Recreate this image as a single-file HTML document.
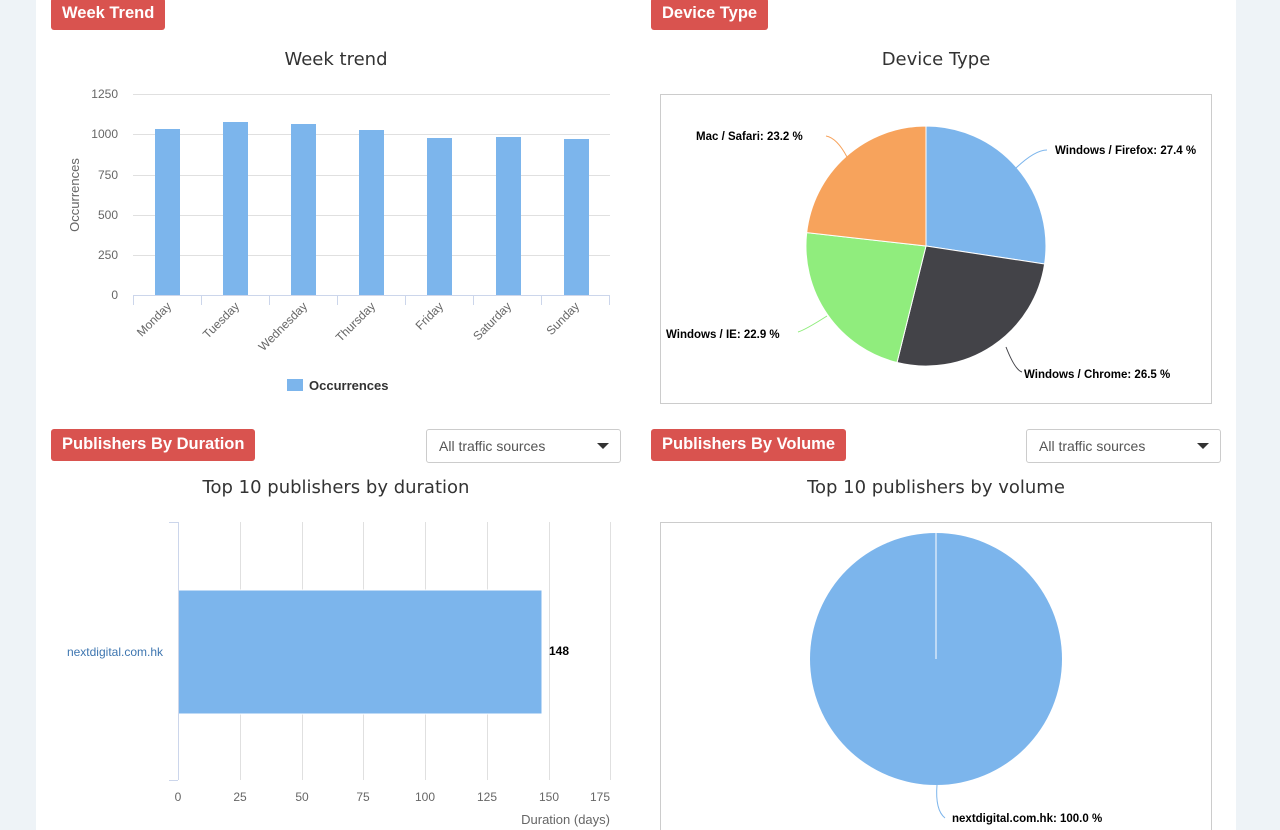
<!DOCTYPE html>
<html><head><meta charset="utf-8"><style>
body{margin:0;width:1280px;height:830px;background:#eef3f7;font-family:"Liberation Sans",sans-serif;overflow:hidden;position:relative}
.panel{position:absolute;left:36px;top:0;width:1200px;height:830px;background:#fff}
.badge{position:absolute;background:#d9534f;color:#fff;font-weight:bold;font-size:16.5px;border-radius:3px;padding:0 11px;height:32px;line-height:30px}
.dd{position:absolute;border:1px solid #ccc;border-radius:3px;height:34px;width:195px;font-size:14px;color:#555;line-height:33px;box-sizing:border-box;padding-left:12px}
.dd:after{content:"";position:absolute;right:11px;top:13px;border:6px solid transparent;border-top:6px solid #333;border-bottom:0}
svg{position:absolute;left:0;top:0}
.lab{font-family:"Liberation Sans",sans-serif}
</style></head><body>
<div class="panel"></div>
<div class="badge" style="left:51px;top:-2px">Week Trend</div>
<div class="badge" style="left:651px;top:-2px">Device Type</div>
<div class="badge" style="left:51px;top:429px">Publishers By Duration</div>
<div class="badge" style="left:651px;top:429px">Publishers By Volume</div>
<div class="dd" style="left:426px;top:429px">All traffic sources</div>
<div class="dd" style="left:1026px;top:429px">All traffic sources</div>
<svg width="1280" height="830" font-family="DejaVu Sans, Liberation Sans, sans-serif">
<text x="336" y="65" text-anchor="middle" font-size="18" fill="#333">Week trend</text>
<g stroke="#e0e0e0"><line x1="133" x2="610" y1="94.5" y2="94.5"/><line x1="133" x2="610" y1="134.5" y2="134.5"/><line x1="133" x2="610" y1="175.5" y2="175.5"/><line x1="133" x2="610" y1="215.5" y2="215.5"/><line x1="133" x2="610" y1="255.5" y2="255.5"/></g>
<g class="lab" font-size="12" fill="#666" text-anchor="end"><text x="118" y="98">1250</text><text x="118" y="138">1000</text><text x="118" y="179">750</text><text x="118" y="219">500</text><text x="118" y="259">250</text><text x="118" y="299">0</text></g>
<text class="lab" transform="translate(79,195) rotate(-90)" text-anchor="middle" font-size="13" fill="#666">Occurrences</text>
<g fill="#7cb5ec"><rect x="155" y="129" width="25" height="166"/><rect x="223" y="122" width="25" height="173"/><rect x="291" y="124" width="25" height="171"/><rect x="359" y="130" width="25" height="165"/><rect x="427" y="138" width="25" height="157"/><rect x="496" y="137" width="25" height="158"/><rect x="564" y="139" width="25" height="156"/></g>
<g stroke="#ccd6eb"><line x1="133" x2="610" y1="295.5" y2="295.5"/><line x1="133.5" x2="133.5" y1="295" y2="305"/><line x1="201.5" x2="201.5" y1="295" y2="305"/><line x1="269.5" x2="269.5" y1="295" y2="305"/><line x1="337.5" x2="337.5" y1="295" y2="305"/><line x1="405.5" x2="405.5" y1="295" y2="305"/><line x1="473.5" x2="473.5" y1="295" y2="305"/><line x1="541.5" x2="541.5" y1="295" y2="305"/><line x1="609.5" x2="609.5" y1="295" y2="305"/></g>
<g class="lab" font-size="12" fill="#666" text-anchor="end"><text transform="translate(172,307) rotate(-45)">Monday</text><text transform="translate(240,307) rotate(-45)">Tuesday</text><text transform="translate(308,307) rotate(-45)">Wednesday</text><text transform="translate(376,307) rotate(-45)">Thursday</text><text transform="translate(444,307) rotate(-45)">Friday</text><text transform="translate(512,307) rotate(-45)">Saturday</text><text transform="translate(580,307) rotate(-45)">Sunday</text></g>
<rect x="287" y="379" width="16" height="12" fill="#7cb5ec"/><text class="lab" x="309" y="390" font-size="13" fill="#333" font-weight="bold">Occurrences</text>

<text x="936" y="65" text-anchor="middle" font-size="18" fill="#333">Device Type</text>
<rect x="660.5" y="94.5" width="551" height="309" fill="none" stroke="#ccc"/>
<g stroke="#fff" stroke-width="1">
<path d="M926,246 L926,126 A120,120 0 0 1 1044.6,264 Z" fill="#7cb5ec"/>
<path d="M926,246 L1044.6,264 A120,120 0 0 1 897,362.5 Z" fill="#434348"/>
<path d="M926,246 L897,362.5 A120,120 0 0 1 806.7,232.6 Z" fill="#90ed7d"/>
<path d="M926,246 L806.7,232.6 A120,120 0 0 1 926,126 Z" fill="#f7a35c"/>
</g>
<g fill="none"><path d="M1016,168 Q1035,150 1047,150" stroke="#7cb5ec"/><path d="M1006,347 Q1015,370 1022,372" stroke="#434348"/><path d="M827,316 Q805,330 798,332" stroke="#90ed7d"/><path d="M847,157 Q837,138 826,136" stroke="#f7a35c"/></g>
<g class="lab" font-size="11.5" font-weight="bold" fill="#000"><text x="1055" y="154">Windows / Firefox: 27.4 %</text><text x="1024" y="378">Windows / Chrome: 26.5 %</text><text x="666" y="338">Windows / IE: 22.9 %</text><text x="696" y="140">Mac / Safari: 23.2 %</text></g>

<text x="336" y="493" text-anchor="middle" font-size="18" fill="#333">Top 10 publishers by duration</text>
<g stroke="#e0e0e0"><line x1="240.5" x2="240.5" y1="522" y2="780"/><line x1="302.5" x2="302.5" y1="522" y2="780"/><line x1="363.5" x2="363.5" y1="522" y2="780"/><line x1="425.5" x2="425.5" y1="522" y2="780"/><line x1="487.5" x2="487.5" y1="522" y2="780"/><line x1="549.5" x2="549.5" y1="522" y2="780"/><line x1="610.5" x2="610.5" y1="522" y2="780"/></g>
<rect x="178" y="590" width="364" height="124" fill="#7cb5ec" stroke="#fff"/>
<g stroke="#ccd6eb"><line x1="178.5" x2="178.5" y1="522" y2="780"/><line x1="169" x2="178" y1="522.5" y2="522.5"/><line x1="169" x2="178" y1="780.5" y2="780.5"/></g>
<text class="lab" x="549" y="655" font-size="12" font-weight="bold" fill="#000">148</text>
<text class="lab" x="163" y="656" font-size="12" fill="#3e76b0" text-anchor="end">nextdigital.com.hk</text>
<g class="lab" font-size="12" fill="#666" text-anchor="middle"><text x="178" y="801">0</text><text x="240" y="801">25</text><text x="302" y="801">50</text><text x="363" y="801">75</text><text x="425" y="801">100</text><text x="487" y="801">125</text><text x="549" y="801">150</text><text x="600" y="801">175</text></g>
<text class="lab" x="610" y="824" font-size="13" fill="#666" text-anchor="end">Duration (days)</text>

<text x="936" y="493" text-anchor="middle" font-size="18" fill="#333">Top 10 publishers by volume</text>
<rect x="660.5" y="522.5" width="551" height="320" fill="none" stroke="#ccc"/>
<circle cx="936" cy="659" r="126" fill="#7cb5ec"/>
<line x1="936" y1="533" x2="936" y2="659" stroke="#fff"/>
<path d="M937,785 Q935,810 945,818" stroke="#7cb5ec" fill="none"/>
<text class="lab" x="952" y="822" font-size="11.5" font-weight="bold" fill="#000">nextdigital.com.hk: 100.0 %</text>
</svg>
</body></html>
